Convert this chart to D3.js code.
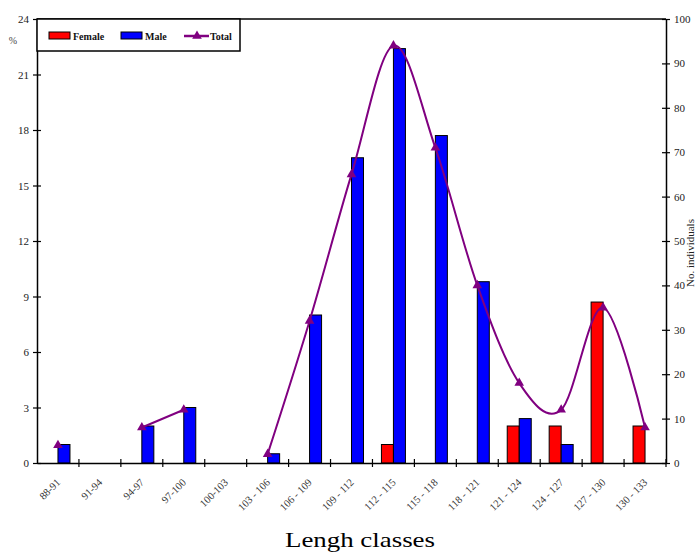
<!DOCTYPE html>
<html>
<head>
<meta charset="utf-8">
<script src="https://cdn.jsdelivr.net/npm/d3@7"></script>
<style>
  body { margin: 0; background: #fff; }
  svg { display: block; font-family: "Liberation Serif", "Times New Roman", serif; }
</style>
</head>
<body>
<svg id="chart" width="699" height="555"></svg>
<script>
// length classes and values
const categories = ['88-91', '91-94', '94-97', '97-100', '100-103', '103 - 106', '106 - 109',
  '109 - 112', '112 - 115', '115 - 118', '118 - 121', '121 - 124', '124 - 127', '127 - 130', '130 - 133']
const female = [0, 0, 0, 0, 0, 0, 0, 0, 1, 0, 0, 2, 2, 8.7, 2]           // %
const male = [1, 0, 2, 3, 0, 0.5, 8, 16.5, 22.4, 17.7, 9.8, 2.4, 1, 0, 0]  // %
const total = [4, null, 8, 12, null, 2, 32, 65, 94, 71, 40, 18, 12, 35, 8] // no. individuals
const leftTicks = [0, 3, 6, 9, 12, 15, 18, 21, 24]
const rightTicks = [0, 10, 20, 30, 40, 50, 60, 70, 80, 90, 100]

const plot = {left: 37, right: 666, top: 19, bottom: 463}
const svg = d3.select('#chart')

// scales
const x = d3.scaleBand().domain(categories).range([plot.left, plot.right]).padding(0)
const yL = d3.scaleLinear().domain([0, 24]).range([plot.bottom, plot.top])
const yR = d3.scaleLinear().domain([0, 100]).range([plot.bottom, plot.top])
const bw = 12
const cx = function(c) { return x(c) + x.bandwidth() / 2 }

// frame top line
svg.append('line')
  .attr('x1', plot.left).attr('x2', plot.right).attr('y1', plot.top).attr('y2', plot.top)
  .attr('stroke', '#000').attr('stroke-width', 1.5)

// bars
const rows = categories.map(function(c, i) { return {c: c, f: female[i], m: male[i], t: total[i]} })
svg.append('g').selectAll('rect')
  .data(rows.filter(function(d) { return d.f > 0 }))
  .join('rect')
  .attr('x', function(d) { return cx(d.c) - bw })
  .attr('y', function(d) { return yL(d.f) })
  .attr('width', bw)
  .attr('height', function(d) { return plot.bottom - yL(d.f) })
  .attr('fill', '#ff0000').attr('stroke', '#000').attr('stroke-width', 1)
svg.append('g').selectAll('rect')
  .data(rows.filter(function(d) { return d.m > 0 }))
  .join('rect')
  .attr('x', function(d) { return cx(d.c) })
  .attr('y', function(d) { return yL(d.m) })
  .attr('width', bw)
  .attr('height', function(d) { return plot.bottom - yL(d.m) })
  .attr('fill', '#0000ff').attr('stroke', '#000').attr('stroke-width', 1)

// total line, smoothed
const purple = '#800080'
const line = d3.line()
  .defined(function(d) { return d.t !== null })
  .x(function(d) { return cx(d.c) })
  .y(function(d) { return yR(d.t) })
  .curve(d3.curveCardinal.tension(0))
svg.append('path')
  .datum(rows)
  .attr('d', line)
  .attr('fill', 'none').attr('stroke', purple).attr('stroke-width', 2)

const tri = d3.symbol().type(d3.symbolTriangle).size(40)
svg.append('g').selectAll('path')
  .data(rows.filter(function(d) { return d.t !== null }))
  .join('path')
  .attr('d', tri)
  .attr('transform', function(d) { return 'translate(' + cx(d.c) + ',' + yR(d.t) + ')' })
  .attr('fill', purple)

// axes
const axL = svg.append('g')
  .attr('transform', 'translate(' + plot.left + ',0)')
  .call(d3.axisLeft(yL).tickValues(leftTicks).tickSize(0).tickPadding(8))
const axR = svg.append('g')
  .attr('transform', 'translate(' + plot.right + ',0)')
  .call(d3.axisRight(yR).tickValues(rightTicks).tickSize(0).tickPadding(8))
const axB = svg.append('g')
  .attr('transform', 'translate(0,' + plot.bottom + ')')
  .call(d3.axisBottom(x).tickSize(0).tickFormat(''))

;[axL, axR, axB].forEach(function(g) {
  g.select('.domain').attr('stroke', '#000').attr('stroke-width', 1.5)
})
axL.selectAll('text').attr('font-size', 11).attr('font-family', 'Liberation Serif').attr('fill', '#222')
axR.selectAll('text').attr('font-size', 11).attr('font-family', 'Liberation Serif').attr('fill', '#222')

// crossing tick marks
axL.selectAll('.tick').append('line').attr('x1', -4).attr('x2', 4).attr('stroke', '#000').attr('stroke-width', 1.2)
axR.selectAll('.tick').append('line').attr('x1', -4).attr('x2', 4).attr('stroke', '#000').attr('stroke-width', 1.2)
axB.selectAll('.tick').remove()
svg.append('g').selectAll('line')
  .data(categories)
  .join('line')
  .attr('x1', function(d) { return x(d) + x.bandwidth() })
  .attr('x2', function(d) { return x(d) + x.bandwidth() })
  .attr('y1', plot.bottom - 4).attr('y2', plot.bottom + 4)
  .attr('stroke', '#000').attr('stroke-width', 1.2)

// rotated category labels
svg.append('g').selectAll('text')
  .data(categories)
  .join('text')
  .attr('transform', function(d) { return 'translate(' + (cx(d) + 3) + ',' + (plot.bottom + 20) + ') rotate(-45)' })
  .attr('text-anchor', 'end')
  .attr('font-size', 10.5)
  .attr('fill', '#333')
  .text(function(d) { return d })

// axis titles
svg.append('text').attr('x', 13).attr('y', 44).attr('text-anchor', 'middle')
  .attr('font-size', 10).attr('fill', '#444').text('%')
svg.append('text')
  .attr('transform', 'translate(694,253) rotate(-90)')
  .attr('text-anchor', 'middle').attr('font-size', 11).attr('fill', '#222')
  .text('No. individuals')
svg.append('text').attr('x', 360).attr('y', 547).attr('text-anchor', 'middle')
  .attr('font-size', 22).attr('textLength', 150).attr('lengthAdjust', 'spacingAndGlyphs')
  .attr('fill', '#000').text('Lengh classes')

// legend
const lg = svg.append('g')
lg.append('rect').attr('x', plot.left).attr('y', plot.top).attr('width', 203).attr('height', 32)
  .attr('fill', '#fff').attr('stroke', '#000').attr('stroke-width', 1.5)
const legendItems = [
  {label: 'Female', color: '#ff0000', x: 49},
  {label: 'Male', color: '#0000ff', x: 121},
  {label: 'Total', color: purple, x: 184}
]
legendItems.forEach(function(d, i) {
  if (i < 2) {
    lg.append('rect').attr('x', d.x).attr('y', 32).attr('width', 21).attr('height', 7)
      .attr('fill', d.color).attr('stroke', '#000').attr('stroke-width', 1)
  } else {
    lg.append('line').attr('x1', d.x).attr('x2', d.x + 25).attr('y1', 36).attr('y2', 36)
      .attr('stroke', d.color).attr('stroke-width', 2.5)
    lg.append('path').attr('d', tri).attr('transform', 'translate(' + (d.x + 13) + ',36)').attr('fill', d.color)
  }
  lg.append('text').attr('x', d.x + (i < 2 ? 24 : 26)).attr('y', 40)
    .attr('font-size', 10).attr('font-weight', 'bold').attr('fill', '#111').text(d.label)
})
</script>
</body>
</html>
